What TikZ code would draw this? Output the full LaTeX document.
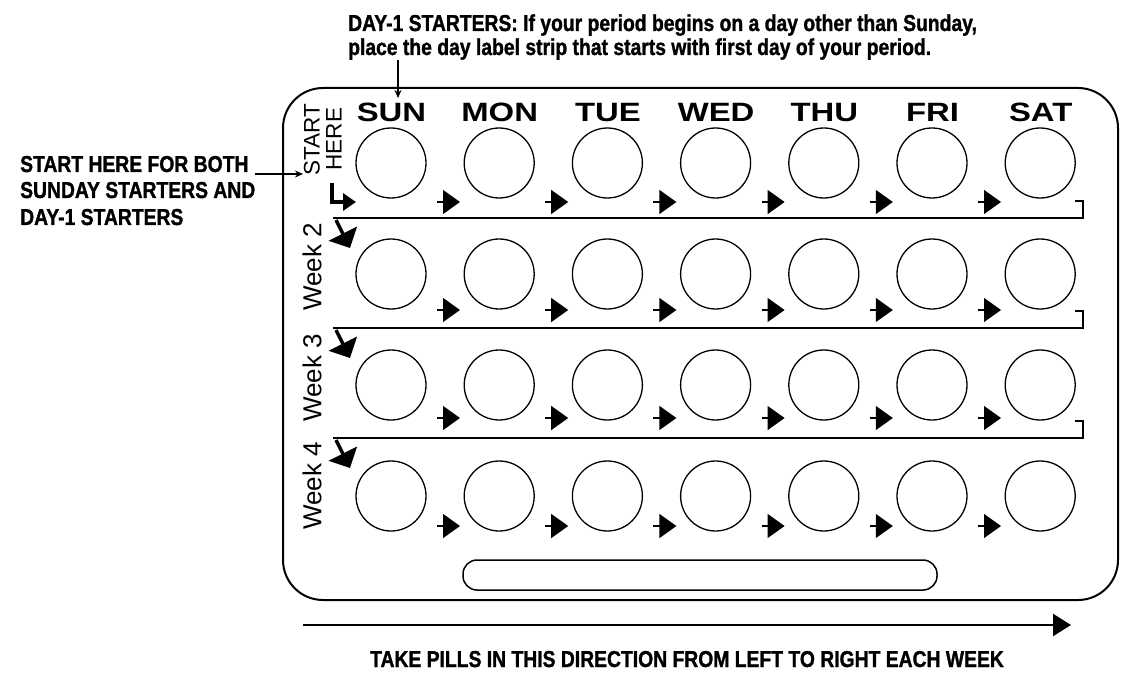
\documentclass[tikz,border=0pt]{standalone}
\usepackage{fontspec}
\setmainfont{Liberation Sans}
\newfontfamily\narrowfont[FakeStretch=0.84, FakeBold=1.2]{Liberation Sans}
\newfontfamily\widefont[FakeStretch=1.24]{Liberation Sans}
\usepackage{tikz}
\usetikzlibrary{arrows.meta}

\tikzset{
    pill/.style={circle, draw, line width=1.3bp, minimum size=70bp, inner sep=0},
    note/.style={inner sep=0, font=\narrowfont\bfseries\fontsize{23bp}{26bp}\selectfont},
    daylabel/.style={inner sep=0, anchor=base, font=\widefont\bfseries\fontsize{26.5bp}{30bp}\selectfont},
    sidelabel/.style={inner sep=0, rotate=90, font=\fontsize{#1}{30bp}\selectfont},
    pointer/.style={line width=1.2bp, -{Stealth[length=8bp,width=7bp]}},
    nexttip/.style={line width=1.2bp, -{Triangle[length=17bp,width=24bp]}},
    rowturn/.style={line width=3.5bp, -{Triangle[length=16bp,width=31bp]}},
}

\begin{document}
\begin{tikzpicture}[x=1bp, y=-1bp]
    \useasboundingbox (0,0) rectangle (1139,675);

    % the card
    \draw[line width=2bp, rounded corners=40bp] (283,88) rectangle (1118,600);
    \draw[line width=1.5bp, rounded corners=14bp] (463,560) rectangle (937,590);

    % pills, rows and columns
    \foreach \r in {0,...,3}
        \foreach \c in {0,...,6}
            \node[pill] (p\r\c) at ({391+108.2*\c},{163+111*\r}) {};
    \foreach \r in {0,...,3}
        \foreach \c in {0,...,5}
            \draw[nexttip] ({437+108.2*\c},{202+108*\r}) -- ++(23,0);

    \foreach \d [count=\c from 0] in {SUN,MON,TUE,WED,THU,FRI,SAT}
        \node[daylabel] (day\c) at ({391.5+108.2*\c},122) {\d};

    % week strips
    \foreach \r in {0,1,2} {
        \draw[line width=2bp] (1075,{201+110*\r}) -- (1083,{201+110*\r})
            -- (1083,{218+110*\r}) -- (333,{218+110*\r});
        \draw[rowturn] (336,{220+110*\r}) -- (350,{248+110*\r});
    }
    \foreach \w/\y in {2/267,3/378,4/486}
        \node[sidelabel=26bp] (week\w) at (312,\y) {Week \w};

    \node[sidelabel=22.5bp] (start) at (312,140) {START};
    \node[sidelabel=22.5bp] (here) at (334,139) {HERE};
    \draw[line width=4bp, -{Triangle[length=13bp,width=17bp]}] (332,183) |- (356,202);

    % notes round the card
    \node[note, anchor=base west] (dayone) at (348,31)
        {DAY-1 STARTERS: If your period begins on a day other than Sunday,};
    \node[note, anchor=base west] (strip) at (348,55)
        {place the day label strip that starts with first day of your period.};
    \coordinate (striptip) at (398,98);
    \draw[pointer] (strip.south -| striptip) -- (striptip);

    \node[note, anchor=base west] (both1) at (20,172) {START HERE FOR BOTH};
    \node[note, anchor=base west] (both2) at (20,198) {SUNDAY STARTERS AND};
    \node[note, anchor=base west] (both3) at (20,225) {DAY-1 STARTERS};
    \coordinate (bothtip) at (303,174);
    \draw[pointer] (both2.east |- bothtip) -- (bothtip);

    \coordinate (dirfrom) at (303,625);
    \coordinate (dirto) at (1071,625);
    \draw[line width=2.5bp, -{Triangle[length=18bp,width=22bp]}] (dirfrom) -- (dirto);
    \node[note, anchor=base] (direction) at (687,667)
        {TAKE PILLS IN THIS DIRECTION FROM LEFT TO RIGHT EACH WEEK};
\end{tikzpicture}
\end{document}
